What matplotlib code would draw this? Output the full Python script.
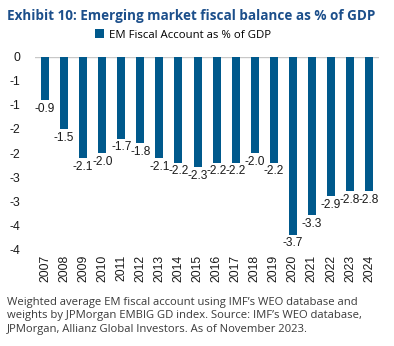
import matplotlib

matplotlib.use("Agg")
import matplotlib.pyplot as plt
import numpy as np

years = [str(y) for y in range(2007, 2025)]
fiscal_balance = [-0.9, -1.5, -2.1, -2.0, -1.7, -1.8, -2.1, -2.2, -2.3,
                  -2.2, -2.2, -2.0, -2.2, -3.7, -3.3, -2.9, -2.8, -2.8]
y_ticks = [0, -0.5, -1.0, -1.5, -2.0, -2.5, -3.0, -3.5, -4.0]

BAR = "#00598c"
TITLE = "#1c4f8b"
TEXT = "#1a1a1a"
CHART_FONT = "Liberation Sans"

fig = plt.figure(figsize=(3.94, 3.46), dpi=100)
ax = fig.add_axes([0.090, 0.2803, 0.871, 0.555])

x = np.arange(len(years))
ax.bar(x, fiscal_balance, width=0.42, color=BAR, label="EM Fiscal Account as % of GDP", zorder=2)
ax.axhline(0, color="#c8c8c8", lw=1.0, zorder=1)

for xi, v in zip(x, fiscal_balance):
    ax.annotate(f"{v:.1f}", (xi, v), xytext=(0, -2), textcoords="offset points",
                ha="center", va="top", fontsize=8.6, color=TEXT, family=CHART_FONT)

ax.set_xlim(-0.5, len(years) - 0.5)
ax.set_ylim(-4.0, 0.0)
ax.set_yticks(y_ticks)
# Excel-style rounding of the half-step ticks (-0.5 -> -1, ...)
ax.set_yticklabels([str(int(np.sign(t) * np.floor(abs(t) + 0.5))) if t else "0" for t in y_ticks])
ax.set_xticks(x)
ax.set_xticklabels(years, rotation=90)
ax.tick_params(axis="y", length=0, pad=11, labelsize=8.8, labelcolor=TEXT)
ax.tick_params(axis="x", length=0, pad=4, labelsize=8.8, labelcolor=TEXT)
for lab in ax.get_xticklabels() + ax.get_yticklabels():
    lab.set_family(CHART_FONT)
for s in ax.spines.values():
    s.set_visible(False)

fig.text(0.018, 0.955, "Exhibit 10: Emerging market fiscal balance as % of GDP",
         fontsize=9.75, fontweight="bold", color=TITLE, family="Open Sans", va="center")

ax.legend(loc="center", bbox_to_anchor=(0.43, 1.115), frameon=False,
          handlelength=0.8, handleheight=0.8, handletextpad=0.5, borderpad=0,
          prop={"family": "Open Sans", "size": 8.2})

fig.text(0.018, 0.142,
         "Weighted average EM fiscal account using IMF\u2019s WEO database and\n"
         "weights by JPMorgan EMBIG GD index. Source: IMF\u2019s WEO database,\n"
         "JPMorgan, Allianz Global Investors. As of November 2023.",
         fontsize=8.1, color="#3a3a3a", family="Open Sans", va="top", linespacing=1.3)

fig.savefig("out.png", dpi=100)
